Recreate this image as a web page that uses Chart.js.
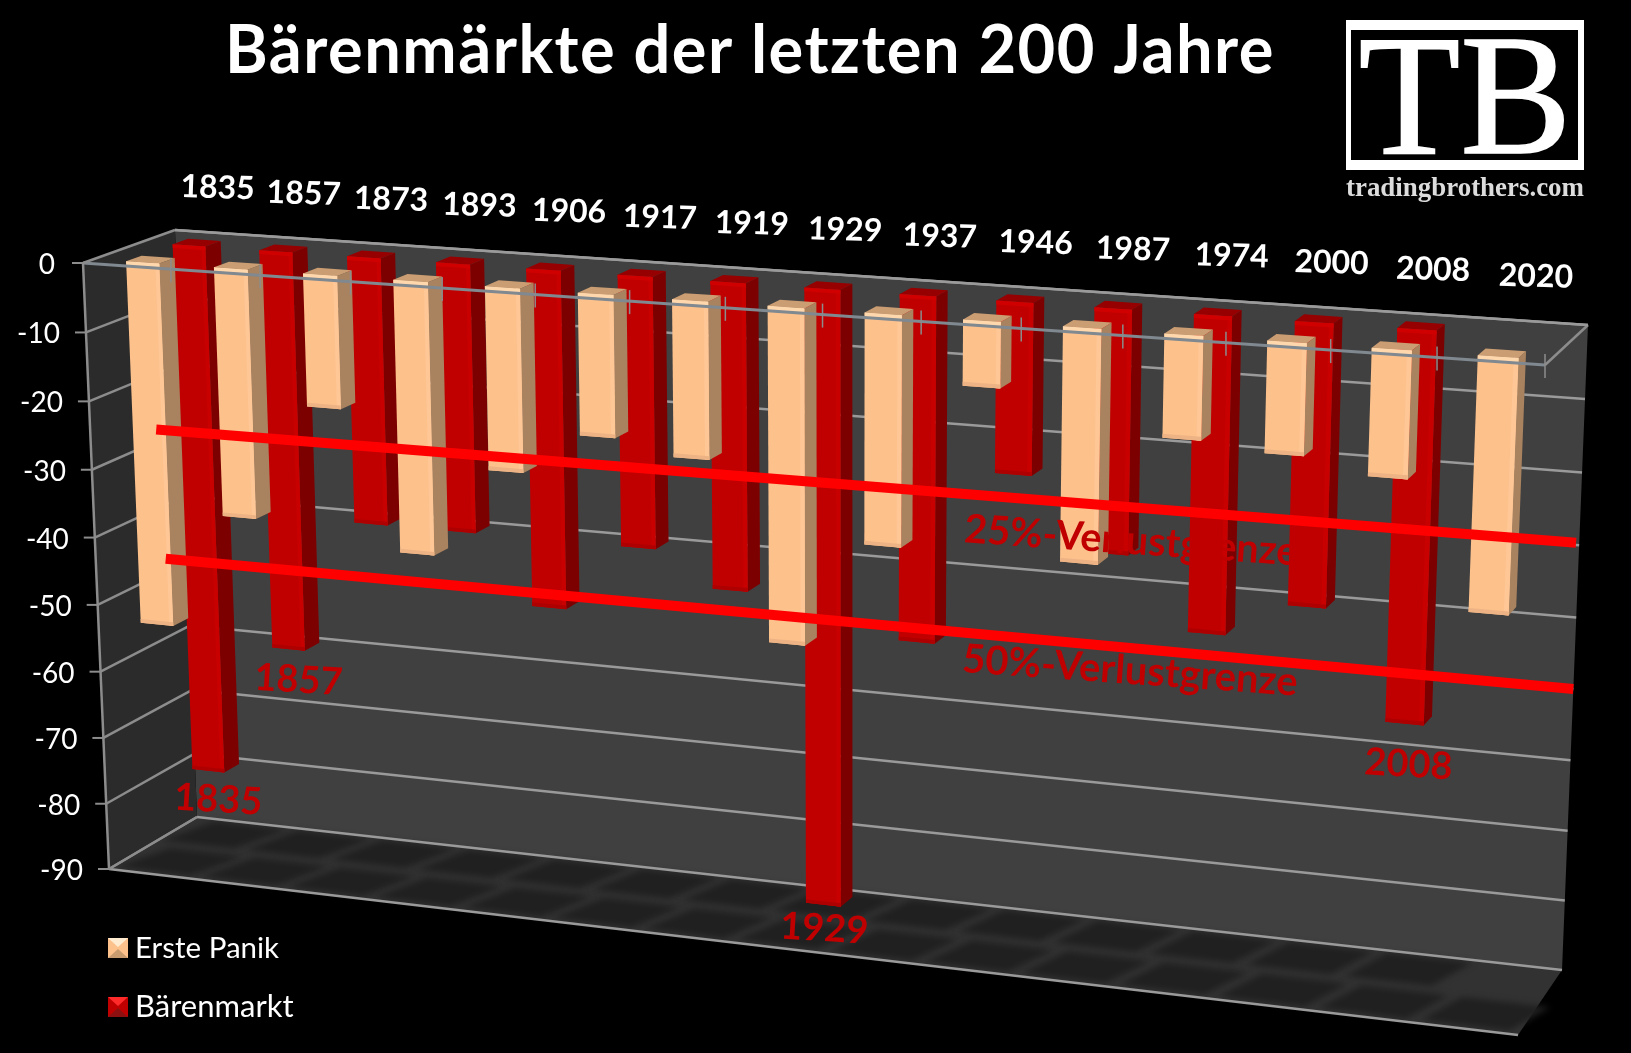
<!DOCTYPE html>
<html>
<head>
<meta charset="utf-8">
<title>Bärenmärkte der letzten 200 Jahre</title>
<script src="https://cdn.jsdelivr.net/npm/chart.js@4"></script>
<style>
  html, body { margin: 0; padding: 0; background: #000; overflow: hidden; }
  canvas { display: block; }
</style>
</head>
<body>
<canvas id="chart" width="1631" height="1053"></canvas>
<script>
// Data
const years = ['1835', '1857', '1873', '1893', '1906', '1917', '1919', '1929', '1937', '1946', '1987', '1974', '2000', '2008', '2020'];
const erstePanik = [-53, -36, -19, -39, -26, -20, -22, -47, -32, -9, -32, -14, -15, -17, -34];
const baerenmarkt = [-79, -59, -39, -39, -49, -39, -44, -89, -49, -24, -34, -44, -39, -54, null];
const yTicks = [0, -10, -20, -30, -40, -50, -60, -70, -80, -90];
const limit25 = -25;
const limit50 = -50;
const markedYears = ['1835', '1857', '1929', '2008'];
const markedGap = [29, 31, 24, 41];
const markedShift = [10, 10, 1, 4];

// Box of the 3D plot on screen, front plane and back wall
const front = [[83, 263], [1545, 365], [1518, 1035], [109, 869]];
const back = [[175, 230], [1588, 325], [1562, 970], [197, 817]];

function homography(q) {
    const [x0, y0] = q[0], [x1, y1] = q[1], [x2, y2] = q[2], [x3, y3] = q[3];
    const dx1 = x1 - x2, dx2 = x3 - x2, sx = x0 - x1 + x2 - x3;
    const dy1 = y1 - y2, dy2 = y3 - y2, sy = y0 - y1 + y2 - y3;
    const den = dx1 * dy2 - dx2 * dy1;
    const g = (sx * dy2 - dx2 * sy) / den;
    const h = (dx1 * sy - sx * dy1) / den;
    const a = x1 - x0 + g * x1, b = x3 - x0 + h * x3;
    const d = y1 - y0 + g * y1, e = y3 - y0 + h * y3;
    return (u, v) => {
        const w = g * u + h * v + 1;
        return [(a * u + b * v + x0) / w, (d * u + e * v + y0) / w];
    };
}
const frontMap = homography(front);
const backMap = homography(back);

// u along the categories, v down the value axis, z into the depth
function project(u, v, z) {
    const f = frontMap(u, v), b = backMap(u, v);
    return [f[0] + (b[0] - f[0]) * z, f[1] + (b[1] - f[1]) * z];
}

function poly(ctx, pts, fill) {
    ctx.beginPath();
    pts.forEach((p, i) => i ? ctx.lineTo(p[0], p[1]) : ctx.moveTo(p[0], p[1]));
    ctx.closePath();
    ctx.fillStyle = fill;
    ctx.fill();
}

function segment(ctx, a, b, color, width) {
    ctx.beginPath();
    ctx.moveTo(a[0], a[1]);
    ctx.lineTo(b[0], b[1]);
    ctx.strokeStyle = color;
    ctx.lineWidth = width;
    ctx.stroke();
}

function label(ctx, text, x, y, font, color, angle, maxWidth, stroke) {
    ctx.save();
    ctx.translate(x, y);
    ctx.rotate(angle || 0);
    ctx.font = font;
    ctx.fillStyle = color;
    if (maxWidth) ctx.fillText(text, 0, 0, maxWidth);
    else ctx.fillText(text, 0, 0);
    if (stroke) {
        ctx.strokeStyle = color;
        ctx.lineWidth = stroke;
        if (maxWidth) ctx.strokeText(text, 0, 0, maxWidth);
        else ctx.strokeText(text, 0, 0);
    }
    ctx.restore();
}

const rows = [
    { z0: 0.12, z1: 0.29, front: '#fdc18c', side: '#a9825f', cap: '#cb9d72', hi: '#ffd7ad', low: '#eeb384', band: '#ffc796' },
    { z0: 0.63, z1: 0.80, front: '#c00000', side: '#7d0000', cap: '#960000', hi: '#d00000', low: '#ae0000', band: '#c80000' }
];
const barShift = 0.0039;
const barStretch = 0.9972;

const walls = {
    id: 'walls',
    beforeDatasetsDraw(chart) {
        const ctx = chart.ctx;
        const y = chart.scales.y;
        const area = chart.chartArea;
        const vOf = val => (y.getPixelForValue(val) - area.top) / (area.bottom - area.top);
        ctx.save();
        // back wall, left wall, floor
        poly(ctx, back, '#404040');
        poly(ctx, [front[0], back[0], back[3], front[3]], '#2b2b2b');
        poly(ctx, [front[3], back[3], back[2], front[2]], '#323232');
        ctx.save();
        ctx.filter = 'blur(3px)';
        const n = years.length;
        for (let i = 0; i < n; i++) {
            [[0.05, 0.45], [0.56, 0.96]].forEach((r, k) => {
                if (k === 1 && i === n - 1) return;
                const u0 = (i + 0.04) / n, u1 = (i + 0.9) / n, s = 0.22 / n;
                poly(ctx, [project(u0, 1, r[0]), project(u1, 1, r[0]), project(u1 + s, 1, r[1]), project(u0 + s, 1, r[1])], '#202020');
            });
        }
        ctx.restore();
        // gridlines go over left wall and back wall
        yTicks.forEach(val => {
            const v = vOf(val);
            if (val !== 0) segment(ctx, project(0, v, 0), project(0, v, 1), '#8c8c8c', 2.5);
            segment(ctx, project(0, v, 1), project(1, v, 1), '#9a9a9a', 2.5);
        });
        segment(ctx, project(1, 0, 0), project(1, 0, 1), '#8c8c8c', 2.5);
        segment(ctx, project(0, 1, 0), project(1, 1, 0), '#9a9a9a', 2.5);
        ctx.restore();
    },
    beforeDatasetDraw(chart, args) {
        const ctx = chart.ctx;
        const area = chart.chartArea;
        const row = rows[args.index];
        const values = chart.data.datasets[args.index].data;
        const w = area.right - area.left, h = area.bottom - area.top;
        args.meta.data.forEach((el, i) => {
            if (values[i] === null) return;
            const u0 = (el.x - el.width / 2 - area.left) / w * barStretch + barShift;
            const u1 = (el.x + el.width / 2 - area.left) / w * barStretch + barShift;
            const v0 = (el.base - area.top) / h;
            const v1 = (el.y - area.top) / h;
            const a = project(u0, v0, row.z0), b = project(u1, v0, row.z0);
            const c = project(u1, v1, row.z0), d = project(u0, v1, row.z0);
            const e = project(u1, v0, row.z1), f = project(u1, v1, row.z1);
            const g = project(u0, v0, row.z1);
            poly(ctx, [b, e, f, c], row.side);
            poly(ctx, [a, g, e, b], row.cap);
            poly(ctx, [a, b, c, d], row.front);
            // small bevel along the edges of the front face
            const um = u1 - (u1 - u0) * 0.12, t = 0.006;
            poly(ctx, [project(um, v0, row.z0), b, c, project(um, v1, row.z0)], row.band);
            poly(ctx, [a, b, project(u1, v0 + t, row.z0), project(u0, v0 + t, row.z0)], row.hi);
            poly(ctx, [project(u0, v1 - t, row.z0), project(u1, v1 - t, row.z0), c, d], row.low);
        });
        return false;
    },
    afterDatasetsDraw(chart) {
        const ctx = chart.ctx;
        const y = chart.scales.y, xs = chart.scales.x;
        const area = chart.chartArea;
        const vOf = val => (y.getPixelForValue(val) - area.top) / (area.bottom - area.top);
        const uOf = idx => (xs.getPixelForValue(idx) - area.left) / (area.right - area.left);
        ctx.save();
        ctx.lineCap = 'butt';
        // axis frame in front of the bars
        segment(ctx, project(0, 0, 0), project(1, 0, 0), '#808890', 3);
        segment(ctx, project(0, 0, 0), project(0, 1, 0), '#8c8c8c', 2.5);
        segment(ctx, project(0, 0, 0), project(0, 0, 1), '#8c8c8c', 2.5);
        segment(ctx, project(0, 0, 1), project(1, 0, 1), '#9a9a9a', 2.5);
        segment(ctx, project(0, 1, 0), project(0, 1, 1), '#8c8c8c', 2.5);
        years.forEach((yr, i) => {
            const p = project((i + 1) / years.length, 0, 0);
            segment(ctx, [p[0], p[1] - 11], [p[0], p[1] + 13], '#8c8c8c', 1.5);
        });

        // value axis labels
        ctx.textBaseline = 'middle';
        ctx.textAlign = 'right';
        yTicks.forEach(val => {
            const p = project(0, vOf(val), 0);
            segment(ctx, [p[0] - 11, p[1]], p, '#8c8c8c', 2);
            label(ctx, String(val), p[0] - (val === 0 ? 28 : 26), p[1] + 2, '28px Lato', '#fff');
        });

        // category labels above the back wall
        ctx.textAlign = 'center';
        years.forEach((yr, i) => {
            const p = project(uOf(i), 0, 1);
            label(ctx, yr, p[0], p[1] - 45, 'bold 32px Lato', '#fff', 0.03);
        });

        // hand drawn limit lines and their captions
        segment(ctx, project(uOf(0), vOf(limit25), 0.25), project(uOf(14.73), vOf(limit25), 0.33), '#ff0000', 10);
        segment(ctx, project(uOf(-0.76), vOf(limit50), 1), project(uOf(14.5), vOf(limit50), 1), '#ff0000', 10);
        label(ctx, '25%-Verlustgrenze', 1131, 541, 'bold 40px Lato', '#c00000', 0.07, 334);
        label(ctx, '50%-Verlustgrenze', 1130, 671, 'bold 40px Lato', '#c00000', 0.07, 336);

        // big years below the deepest bars
        const meta = chart.getDatasetMeta(1);
        markedYears.forEach((yr, n) => {
            const el = meta.data[years.indexOf(yr)];
            const u = (el.x - area.left) / (area.right - area.left) * barStretch + barShift;
            const p = project(u, (el.y - area.top) / (area.bottom - area.top), rows[1].z0);
            label(ctx, yr, p[0] + markedShift[n], p[1] + markedGap[n], 'bold 38px Lato', '#c00000', 0.06);
        });
        ctx.restore();

        // title
        ctx.save();
        ctx.textAlign = 'center';
        ctx.textBaseline = 'alphabetic';
        ctx.letterSpacing = '1.5px';
        label(ctx, 'Bärenmärkte der letzten 200 Jahre', 750, 73, 'bold 66px Lato', '#fff', 0, 1050);
        ctx.letterSpacing = '0px';

        // logo
        ctx.fillStyle = '#fff';
        ctx.fillRect(1346, 20, 238, 150);
        ctx.fillStyle = '#000';
        ctx.fillRect(1351, 30, 227, 130);
        label(ctx, 'TB', 1465, 153, '172px "Liberation Serif"', '#fff', 0, 213, 1.5);
        label(ctx, 'tradingbrothers.com', 1465, 196, 'bold 27px "Liberation Serif"', '#dcdcdc', 0, 238);
        ctx.restore();

        // legend
        ctx.save();
        ctx.textAlign = 'left';
        ctx.textBaseline = 'middle';
        const boxes = [938, 997];
        const legendFonts = ['29.5px Lato', '31px Lato'];
        chart.data.datasets.forEach((ds, i) => {
            const by = boxes[i], row = rows[i];
            ctx.fillStyle = row.front;
            ctx.fillRect(108, by, 20, 20);
            poly(ctx, [[108, by], [128, by], [118, by + 9]], i ? '#ff2a2a' : '#ffecd0');
            poly(ctx, [[108, by + 20], [128, by + 20], [118, by + 11]], i ? '#8c1010' : '#c99c70');
            label(ctx, ds.label, 135, by + 10, legendFonts[i], '#fff');
        });
        ctx.restore();
    }
};

new Chart(document.getElementById('chart').getContext('2d'), {
    type: 'bar',
    data: {
        labels: years,
        datasets: [
            { label: 'Erste Panik', data: erstePanik, backgroundColor: rows[0].front, grouped: false, barPercentage: 0.38, categoryPercentage: 1 },
            { label: 'Bärenmarkt', data: baerenmarkt, backgroundColor: rows[1].front, grouped: false, barPercentage: 0.38, categoryPercentage: 1 }
        ]
    },
    options: {
        responsive: false,
        devicePixelRatio: 1,
        animation: false,
        layout: { padding: { left: 83, top: 263, right: 86, bottom: 184 } },
        plugins: { legend: { display: false }, title: { display: false }, tooltip: { enabled: false } },
        scales: {
            x: { display: false, offset: true },
            y: {
                display: false, min: -90, max: 0,
                afterBuildTicks: s => { s.ticks = yTicks.map(v => ({ value: v })); }
            }
        }
    },
    plugins: [walls]
});
</script>
</body>
</html>
